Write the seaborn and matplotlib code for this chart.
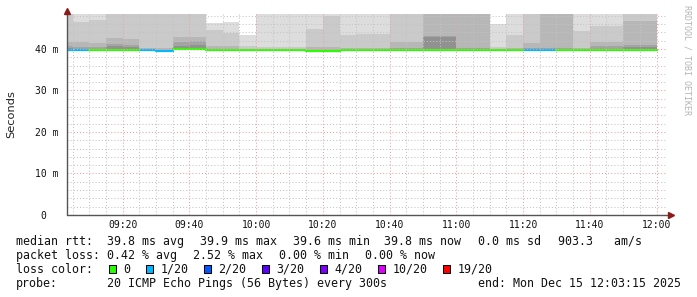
import numpy as np
import pandas as pd
import matplotlib
matplotlib.use("Agg")
import matplotlib.pyplot as plt
from matplotlib.patches import Rectangle
import seaborn as sns

# ---------------- data (time in minutes after 09:00) ----------------
window_start = 3.25      # 09:03:15
window_end = 183.25      # 12:03:15
step_min = 5
seg_end = list(range(5, 181, 5))   # end of each 5-minute RRD step (09:05 ... 12:00)

# median rtt per step (ms)
median = [39.7, 39.7, 39.8, 39.8, 39.8, 39.7, 39.6, 39.9, 39.9, 39.8,
          39.8, 39.8, 39.8, 39.8, 39.8, 39.6, 39.6, 39.8, 39.8, 39.8,
          39.8, 39.8, 39.8, 39.8, 39.8, 39.8, 39.8, 39.8, 39.7, 39.7,
          39.8, 39.8, 39.8, 39.8, 39.8, 39.8]
# lost pings (out of 20) per step
loss = [1, 1, 0, 0, 0, 1, 1, 0, 0, 0,
        0, 0, 0, 0, 0, 0, 0, 0, 0, 0,
        0, 0, 0, 0, 0, 0, 0, 0, 1, 1,
        0, 0, 0, 0, 0, 0]

nan = np.nan
# smoke band tops (ms): outermost pair (max ping) ... inner pairs
smoke1 = [49.5, 49.5, 49.5, 49.5, 49.5, 49.5, 49.5, 49.5, 49.5, 46.3,
          46.5, 43.4, 49.5, 49.5, 49.5, 49.5, 49.5, 49.5, 49.5, 49.5,
          49.5, 49.5, 49.5, 49.5, 49.5, 49.5, 46.0, 49.5, 49.5, 49.5,
          49.5, 49.5, 49.5, 49.5, 49.5, 49.5]
smoke2 = [49.5, 46.5, 47.0, 49.5, 49.5, 49.5, 49.5, 49.5, 49.5, 44.6,
          43.8, 40.6, 40.4, 40.4, 40.5, 44.7, 47.9, 43.4, 43.6, 43.5,
          49.5, 49.5, 49.5, 49.5, 49.5, 49.5, 40.4, 43.3, 49.5, 49.5,
          49.5, 44.4, 45.5, 45.5, 49.5, 49.5]
smoke3 = [41.8, 41.8, 41.5, 42.7, 42.5, 40.2, 40.2, 42.8, 43.0, 40.7,
          40.6, nan, nan, nan, nan, 40.4, 40.5, 40.3, 40.3, 40.3,
          41.8, 41.6, 49.5, 49.5, 49.5, 49.5, nan, 40.3, 41.5, 49.5,
          49.5, 40.3, 41.8, 41.8, 46.8, 46.8]
smoke4 = [40.6, 40.5, 40.5, 41.2, 41.0, nan, nan, 41.8, 42.0, nan,
          nan, nan, nan, nan, nan, nan, nan, nan, nan, nan,
          40.3, 40.3, 43.2, 43.2, 40.3, 40.3, nan, nan, 40.3, 40.3,
          40.3, nan, 40.6, 40.6, 41.0, 41.0]
smoke5 = [40.2, nan, nan, 40.7, 40.5, nan, nan, 40.8, 41.0, nan,
          nan, nan, nan, nan, nan, nan, nan, nan, nan, nan,
          nan, nan, 43.0, 43.0, nan, nan, nan, nan, nan, nan,
          nan, nan, nan, nan, 40.4, 40.4]
smoke_floor = 39.65

xtick_pos = [20, 40, 60, 80, 100, 120, 140, 160, 180]
xtick_labels = ["09:20", "09:40", "10:00", "10:20", "10:40",
                "11:00", "11:20", "11:40", "12:00"]
ytick_pos = [0, 10, 20, 30, 40]
ytick_labels = ["0  ", "10 m", "20 m", "30 m", "40 m"]
y_top = 48.43

loss_levels = ["0", "1/20", "2/20", "3/20", "4/20", "10/20", "19/20"]
loss_colors = ["#26ff00", "#00b8ff", "#0059ff", "#5e00ff", "#7e00ff", "#dd00ff", "#ff0000"]

rtt_items = ["median rtt:", "39.8 ms avg", "39.9 ms max", "39.6 ms min",
             "39.8 ms now", "0.0 ms sd", "903.3   am/s"]
loss_items = ["packet loss:", "0.42 % avg", "2.52 % max", "0.00 % min", "0.00 % now"]
color_title = "loss color:"
probe_items = ["probe:", "20 ICMP Echo Pings (56 Bytes) every 300s",
               "end: Mon Dec 15 12:03:15 2025"]
ylabel = "Seconds"
watermark = "RRDTOOL / TOBI OETIKER"

# ---------------- figure ----------------
sns.set_theme(style="white")
plt.rcParams["font.family"] = ["DejaVu Sans Mono", "DejaVu Sans"]

W, H = 697, 297
fig = plt.figure(figsize=(W / 100, H / 100), dpi=100, facecolor="white")
def fx(x): return x / W
def fy(y): return 1 - y / H

ax_l, ax_r, ax_t, ax_b = 66.7, 667.4, 14.0, 215.0
ax = fig.add_axes([fx(ax_l), fy(ax_b), (ax_r - ax_l) / W, (ax_b - ax_t) / H])
ax.set_facecolor("white")

ends = np.array(seg_end, float)
starts = np.maximum(ends - step_min, window_start)
widths = ends - starts

shades = ["#dddddd", "#cacaca", "#b7b7b7", "#a4a4a4", "#919191"]
for layer, shade in zip([smoke1, smoke2, smoke3, smoke4, smoke5], shades):
    tops = np.array(layer, float)
    h = np.where(np.isnan(tops), 0.0, tops - smoke_floor)
    ax.bar(starts, h, width=widths, bottom=smoke_floor, align="edge",
           color=shade, linewidth=0, zorder=1)

# median line, coloured by loss
rows = []
for i in range(len(ends)):
    lab = loss_levels[0] if loss[i] == 0 else f"{loss[i]}/20"
    rows.append((starts[i], median[i], i, lab))
    rows.append((ends[i], median[i], i, lab))
df = pd.DataFrame(rows, columns=["t", "ms", "seg", "loss"])
palette = dict(zip(loss_levels, loss_colors))
sns.lineplot(data=df, x="t", y="ms", hue="loss", units="seg", estimator=None,
             palette={k: palette[k] for k in df["loss"].unique()},
             linewidth=1.6, legend=False, ax=ax, zorder=2)

ax.set_xlim(window_start, window_end)
ax.set_ylim(0, y_top)
ax.set_xlabel("")
ax.set_ylabel("")

ax.set_xticks(xtick_pos)
ax.set_xticklabels(xtick_labels)
ax.set_xticks(np.arange(5, 185, 5), minor=True)
ax.set_yticks(ytick_pos)
ax.set_yticklabels(ytick_labels)
ax.set_yticks(np.arange(2, 49, 2), minor=True)

ax.set_axisbelow(False)
ax.grid(which="minor", color="#c4c4c4", linestyle=(0, (1, 2)), linewidth=0.75)
ax.grid(which="major", color="#eea0a0", linestyle=(0, (1, 2)), linewidth=0.75)

for s in ax.spines.values():
    s.set_visible(False)

ax.tick_params(axis="x", which="both", direction="out", length=2, width=0.7,
               color="#555555", labelsize=7, pad=1.5, labelcolor="#111111")
ax.tick_params(axis="y", which="major", direction="out", length=3, width=0.7,
               color="#555555", labelsize=7, pad=3, labelcolor="#111111")
ax.tick_params(axis="y", which="minor", direction="out", length=2, width=0.7,
               color="#555555")
for lab in ax.get_xticklabels() + ax.get_yticklabels():
    lab.set_family("DejaVu Sans Mono")

# axis lines with arrows
ax.plot([0, 0], [0, 1.02], transform=ax.transAxes, color="#555555", lw=1.0, clip_on=False, zorder=5)
ax.plot([0, 1.006], [0, 0], transform=ax.transAxes, color="#555555", lw=1.0, clip_on=False, zorder=5)
ax.plot([0], [1.017], marker="^", ms=4.2, color="#8b1a1a", transform=ax.transAxes, clip_on=False, zorder=6)
ax.plot([1.006], [0], marker=">", ms=4.2, color="#8b1a1a", transform=ax.transAxes, clip_on=False, zorder=6)

# y label and watermark
fig.text(fx(11), fy(114), ylabel, rotation=90, ha="center", va="center",
         fontsize=8.2, family="DejaVu Sans", color="#222222")
fig.text(fx(687), fy(5), watermark, rotation=270, ha="center", va="top",
         fontsize=6, family="DejaVu Sans Mono", color="#b4b4b4")

# legend lines (rrdtool places each GPRINT item separately)
fs = 8.4
cw = 7.02
x0 = 16
def put(x, y, s):
    fig.text(fx(x), fy(y), s, fontsize=fs, family="DejaVu Sans Mono", va="baseline", color="#111111")

for x, s in zip([x0, 107.3, 200.0, 293.3, 384.3, 478.3, 558.3], rtt_items):
    put(x, 245, s)
for x, s in zip([x0, 107.3, 193.3, 279.3, 365.0], loss_items):
    put(x, 259, s)
put(x0, 273, color_title)
for x, s in zip([x0, 107.3, 478.3], probe_items):
    put(x, 287, s)

bx = x0 + 13 * cw + 1.5
for lab, col in zip(loss_levels, loss_colors):
    fig.patches.append(Rectangle((fx(bx), fy(273)), 7.3 / W, 8 / H, transform=fig.transFigure,
                                 facecolor=col, edgecolor="black", linewidth=0.75))
    lx = bx + 14.6
    put(lx, 273, lab)
    bx = lx + len(lab) * cw + 15.3

fig.savefig("out.png", dpi=100, facecolor="white")
